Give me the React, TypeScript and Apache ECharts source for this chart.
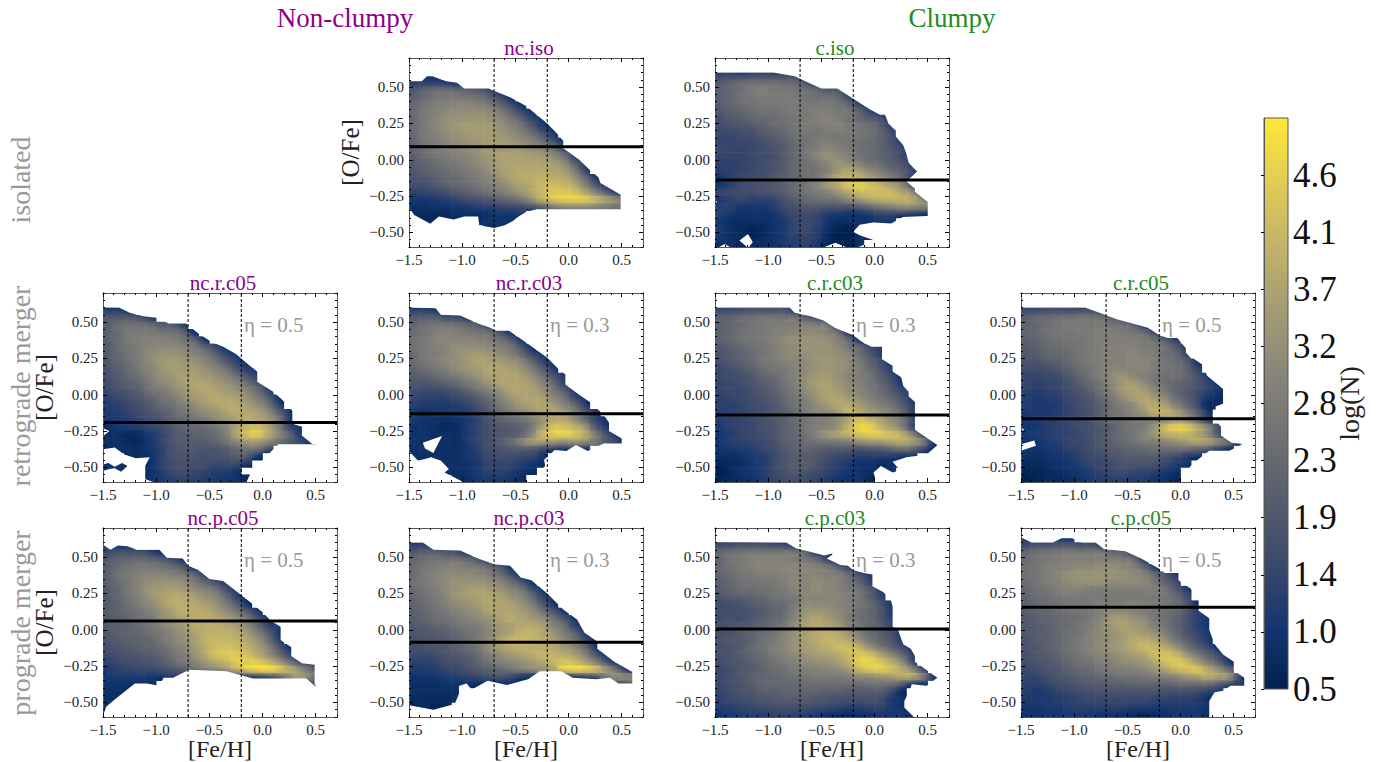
import React, { useEffect, useRef } from "react";
import * as echarts from "echarts";

// log(N) x 10 per cell. Rows run from [O/Fe]=0.675 down to -0.575, columns from [Fe/H]=-1.45 to 0.65. 0 = empty.
const xBins = [-1.45,-1.35,-1.25,-1.15,-1.05,-0.95,-0.85,-0.75,-0.65,-0.55,-0.45,-0.35,-0.25,-0.15,-0.05,0.05,0.15,0.25,0.35,0.45,0.55,0.65];
const yBins = [0.675,0.625,0.575,0.525,0.475,0.425,0.375,0.325,0.275,0.225,0.175,0.125,0.075,0.025,-0.025,-0.075,-0.125,-0.175,-0.225,-0.275,-0.325,-0.375,-0.425,-0.475,-0.525,-0.575];

const ncIso = [[],[],
[0,9,9],
[13,14,14,13,10],
[19,22,24,24,23,22,20,16,10],
[21,24,26,27,27,26,25,22,17,10],
[23,26,28,29,30,30,29,27,23,17,10],
[24,27,29,31,32,32,32,31,28,23,16,10],
[24,27,30,32,33,34,34,33,31,27,22,15,10],
[24,27,30,32,34,35,35,35,33,30,26,20,13,10],
[24,27,29,31,33,34,35,35,34,32,29,25,19,12],
[23,26,28,30,32,33,34,35,35,34,32,29,25,18,10],
[22,25,27,29,30,32,33,35,35,35,34,32,30,25,17,10],
[21,24,26,27,29,30,32,34,36,36,36,35,34,31,25,14],
[20,22,24,26,27,29,31,33,36,37,37,37,37,35,31,22,12],
[19,21,23,24,26,27,29,32,35,37,38,38,38,37,35,28,16],
[18,19,21,23,24,26,28,30,33,36,38,39,40,39,38,33,24,12],
[16,17,19,21,23,24,26,28,30,33,36,38,41,42,41,38,30,20,11],
[13,14,15,17,19,21,23,25,27,30,33,37,41,44,44,43,38,30,22,13],
[10,10,11,12,14,16,17,19,21,23,26,31,38,42,44,45,44,40,35,30],
[8,8,9,9,10,11,12,13,14,15,16,18,22,27,30,31,31,30,28,26],
[7,7,7,7,8,8,8,9,10,10,11],
[0,7,7,7,7,7,8,9,9,8],
[0,0,0,0,0,0,0,8,8],
[],[]];

const cIso = [[],[],
[15,16,16,17,17,17,17,16,11],
[20,22,24,25,25,25,24,23,19,12],
[21,23,25,27,28,27,27,26,25,23,20,19,11],
[21,23,25,26,27,27,27,27,26,25,25,23,17,10],
[20,22,24,25,26,26,27,27,27,27,27,26,23,16,10],
[19,21,22,24,25,25,26,27,27,28,28,27,26,22,16,11],
[17,19,20,22,23,24,25,26,27,28,29,28,26,24,21,18,11],
[16,17,18,19,21,23,24,26,27,27,28,29,27,26,24,21,14],
[15,15,16,17,19,21,23,25,26,26,27,27,27,26,25,22,17,11],
[14,14,15,15,17,19,21,24,25,27,28,27,26,25,24,22,18,12],
[15,14,14,15,16,18,20,23,26,28,30,29,27,25,24,22,19,15,10],
[14,14,14,15,16,17,20,23,26,29,32,31,29,26,24,22,20,16,10],
[13,13,14,15,16,18,20,23,25,27,30,33,32,29,26,24,21,18,12],
[12,13,14,15,16,18,20,23,25,26,29,34,37,35,31,28,24,21,15,9],
[10,13,15,16,17,19,21,23,25,27,32,38,40,40,37,33,29,24,15],
[10,13,16,17,18,19,21,24,26,29,34,38,43,45,43,40,36,31,20],
[14,15,16,16,17,18,20,23,25,27,29,33,37,41,42,42,41,37,31,15],
[11,13,14,13,13,14,17,20,23,24,25,26,30,33,36,38,39,39,37,30],
[12,12,10,10,10,12,15,17,19,19,18,18,18,20,23,26,28,30,30,28],
[12,10,9,9,9,10,13,15,16,15,12,11,10,10,12,14,15,14,12,10],
[10,8,8,8,8,9,11,14,15,14,10,8,8,9,9,10,10],
[11,8,7,6,7,9,11,14,15,13,9,6,5,9,9],
[10,8,7,6,7,9,11,13,14,12,8,5,5,8,8],
[8,8,7,7,8,9,11,12,13,11,7,5,5,8]];

const ncRc05 = [[],[],
[13,13,10],
[19,20,20,18,13],
[21,24,25,25,24,21,20,14],
[21,24,27,27,27,26,25,22,11],
[21,24,27,28,29,29,28,26,22,12],
[20,24,26,28,30,31,31,30,27,22,16,10],
[20,23,26,28,31,33,33,32,30,27,22,15,10],
[19,22,25,28,31,34,35,34,33,30,26,20,14,9],
[18,21,24,27,30,33,35,35,35,33,30,26,19,13,9],
[17,20,23,25,29,32,34,36,36,35,33,30,25,19,13],
[16,19,21,23,27,30,32,35,37,37,35,33,30,25,19,11],
[15,17,19,21,25,27,30,33,36,37,37,35,33,30,24,15],
[13,15,17,19,22,25,27,31,34,36,38,37,36,33,28,21,10],
[12,13,15,17,20,23,25,28,31,34,36,38,38,36,32,26,15],
[11,12,14,16,18,20,23,26,28,31,33,36,38,38,36,31,22,11],
[10,11,12,14,16,18,21,23,25,27,30,33,36,39,38,34,27,13],
[8,10,11,12,14,16,19,22,23,24,26,30,36,41,42,37,28,16,9],
[8,8,7,8,11,14,18,20,21,22,24,28,36,42,44,38,30,22,12,9],
[8,8,7,7,10,14,18,20,20,20,22,25,30,34,34,30,25,20,15,10],
[7,8,8,8,10,13,17,19,19,18,18,20,23,25,24,17],
[0,0,8,8,9,13,17,18,18,17,17,18,20,19,10],
[8,8,8,0,9,13,16,17,17,16,15,15,15,11],
[9,9,8,0,9,12,15,16,15,14,12,12,10],
[0,0,0,0,9,11,13,14,13,12,11,10,9,7]];

const ncRc03 = [[],[],
[14,14,12],
[20,21,21,18,17,13],
[23,25,26,26,25,23,21,14],
[24,26,28,29,28,27,26,24,19,11],
[25,27,29,30,30,30,29,28,25,20,11],
[25,27,29,30,32,32,32,31,29,26,19,10],
[24,27,28,30,32,34,35,34,32,29,24,16,10],
[24,26,28,30,32,34,36,36,35,33,30,23,15,9],
[22,24,26,28,31,33,35,37,37,36,33,28,21,13],
[20,21,23,25,27,30,33,36,37,37,36,32,26,19,12],
[18,18,19,21,23,26,29,33,36,37,37,35,30,24,15],
[16,15,15,16,18,21,25,28,32,36,37,36,33,27,21,12],
[14,13,13,13,15,17,20,24,29,33,36,37,36,31,26,17,10],
[12,11,11,11,12,14,17,21,26,30,34,36,37,35,30,24,14],
[10,9,10,10,11,12,15,19,23,27,30,33,36,37,35,29,21,12],
[10,9,9,8,9,11,14,18,21,23,25,28,33,38,38,33,25,15,9],
[9,9,8,7,8,11,14,17,19,20,22,27,36,43,43,40,34,21,12],
[9,9,8,8,8,11,14,17,19,20,23,30,40,44,45,43,38,28,18,10],
[9,8,8,8,8,11,14,17,20,23,28,33,34,33,31,32,30,26,20,14],
[8,9,8,8,8,10,13,16,18,19,20,20,17,13,11,12,10],
[8,8,8,8,8,10,12,15,16,16,15,14,10],
[0,0,0,8,8,9,11,14,14,14,12,10,8],
[0,0,0,8,8,9,11,13,13,12,10,8],
[0,0,0,0,8,8,10,11,11,10,8]];

const cRc03 = [[],[],
[16,17,18,19,19,19,19,13],
[21,22,24,25,26,26,26,26,22,18,12],
[21,23,24,26,27,28,28,28,29,28,26,12],
[21,23,25,26,27,28,29,30,31,31,29,25,12],
[21,23,25,26,27,29,31,32,33,33,32,29,23,12],
[19,21,23,25,26,28,30,31,33,33,33,31,27,23,16,12],
[18,20,22,24,26,28,30,31,32,33,33,32,30,25,19,13],
[17,19,21,23,26,27,29,30,31,33,34,33,31,27,22,17,10],
[15,17,19,21,24,26,27,29,31,33,34,33,31,28,24,19,13],
[15,16,17,19,22,24,26,29,32,34,35,33,30,28,26,21,16,9],
[14,15,16,18,20,22,25,28,32,35,36,34,31,29,26,23,18,11],
[14,15,15,17,19,21,24,27,31,34,36,35,32,30,27,24,20,15,10],
[13,14,15,16,18,20,23,26,29,33,36,37,35,32,29,26,23,18,11],
[13,13,14,16,17,19,22,25,28,31,34,37,38,35,32,29,26,21,14],
[12,13,14,15,17,19,21,24,27,30,31,34,40,39,36,33,29,24,15],
[12,13,14,15,17,19,21,24,26,28,29,32,37,43,41,37,32,27,17],
[11,13,14,15,17,18,21,23,26,28,30,33,40,46,46,41,36,30,18],
[10,12,14,15,16,18,21,23,25,29,33,36,39,42,44,44,42,39,30,18],
[10,12,13,14,15,17,20,22,24,25,26,27,28,31,33,34,36,37,34,27,11],
[9,10,11,12,14,16,19,21,22,21,20,20,19,18,19,20,22,24,22,16,8],
[8,8,9,11,12,15,18,20,20,19,17,15,14,12,12,12,12,11,9],
[6,7,8,10,12,15,18,20,20,18,15,13,11,9,9,8,8,8],
[5,7,9,10,12,15,17,19,18,16,14,12,10,9,8,8,9],
[6,7,8,9,11,14,16,17,16,14,12,10,9,9,7]];

const cRc05 = [[],[],
[16,17,18,18,18,18,18,14],
[21,23,24,25,25,26,26,25,22,17,11],
[22,23,25,26,27,27,27,27,26,25,22,13],
[22,23,25,26,26,27,27,28,28,27,26,24,17,10],
[21,22,24,25,26,26,27,28,28,28,28,27,25,20,14],
[20,21,23,24,25,26,27,28,29,29,29,28,27,25,20,12],
[19,20,22,23,24,26,27,28,29,29,30,29,28,25,23,15],
[18,18,20,21,23,25,27,28,29,29,30,30,28,26,24,20,11],
[16,16,17,19,21,24,26,28,30,30,30,30,28,26,25,22,15],
[14,14,15,16,19,22,25,28,31,33,31,29,27,25,25,22,18,11],
[14,13,14,15,17,20,23,26,30,34,35,32,28,25,23,21,18,14,9],
[13,12,13,14,16,18,21,25,29,34,36,35,31,27,23,20,17,13,10],
[12,11,12,13,15,17,19,23,27,31,35,37,35,31,25,21,16,10,8],
[12,11,11,12,14,16,18,21,25,28,31,36,38,36,30,24,17,8,7],
[10,11,11,12,14,16,18,21,25,27,30,33,38,39,36,30,22,12],
[10,11,12,13,15,16,18,21,24,25,27,28,30,33,35,33,25,15],
[10,10,12,13,14,16,17,19,21,24,26,28,33,41,45,44,38,30,18,10],
[10,11,12,13,14,15,17,19,22,24,26,29,33,38,40,40,37,31,20,11],
[9,9,11,12,14,15,16,19,21,23,25,27,28,30,32,34,36,34,29,22,10],
[9,9,10,11,13,14,16,18,20,21,22,23,24,24,24,24,22,20,14,10],
[8,8,9,10,11,13,15,16,18,19,20,20,20,18,16,13,10],
[7,7,8,9,10,12,14,15,16,18,18,18,17,15,12,10],
[6,6,7,8,9,10,12,14,15,16,15,14,13,11,9],
[5,6,7,7,8,9,11,12,13,13,12,12,10,9,7]];

const ncPc05 = [[],[],
[11,10,11],
[16,18,18,18,15,11],
[20,22,23,24,23,21,17,12],
[21,24,26,27,27,26,24,20,11],
[21,25,27,29,30,30,29,27,23,15],
[21,24,27,30,32,33,33,32,28,23,18,12],
[20,23,27,30,34,35,36,35,32,29,26,18,10],
[20,23,26,29,33,36,38,38,36,33,30,24,15,8],
[20,22,25,28,31,35,38,39,38,36,33,28,21,11],
[20,22,24,26,29,33,36,39,39,38,36,32,27,20,12],
[20,21,23,25,27,31,34,37,39,39,38,36,32,27,18,10],
[20,21,22,24,26,29,32,35,38,39,39,38,36,31,24,15,11],
[19,21,22,23,25,27,30,33,36,39,40,40,38,35,29,21,11],
[18,20,21,22,23,26,29,32,35,39,41,41,40,38,33,25,14],
[17,18,20,21,22,24,27,30,34,38,42,43,42,40,36,30,20,10],
[15,17,18,19,20,22,25,28,32,37,42,44,45,43,39,33,25,16],
[13,15,16,17,18,20,23,26,29,33,37,40,44,45,45,41,35,27,18,13],
[11,13,14,15,15,16,18,20,23,26,29,32,37,42,45,46,43,38,32,24],
[10,11,11,11,10,10,11,10,10,11,11,12,12,13,14,16,22,30,35,28],
[9,9,9,8,8,0,0,0,0,0,0,0,0,0,0,0,0,0,0,16],
[8,8,8],
[8,8],
[8],
[8]];

const ncPc03 = [[],[],
[14,14,10],
[20,22,22,20,18,13],
[23,25,26,26,26,24,20,13],
[24,26,28,29,29,28,27,24,20,11],
[24,27,29,31,31,31,30,28,25,18,10],
[25,27,29,31,33,33,33,32,30,25,19,10],
[24,26,28,31,33,35,36,35,33,30,26,18,10],
[23,25,27,30,33,35,36,37,36,33,30,24,15,9],
[22,24,26,29,31,33,35,37,37,36,33,28,20,12],
[21,23,25,27,29,31,33,36,37,37,35,32,26,19,11],
[20,22,24,25,27,29,31,33,36,38,37,35,32,26,19,10],
[19,20,22,23,25,27,28,31,34,36,38,38,36,30,25,15,9],
[18,19,20,21,23,25,27,30,34,37,40,40,38,34,28,22,12],
[17,18,19,20,22,24,27,31,36,40,41,40,39,36,31,26,18,9],
[16,17,18,19,21,23,26,31,35,38,39,39,39,38,35,31,24,12],
[15,15,16,18,19,21,24,28,31,34,36,38,40,40,39,36,30,20,10],
[13,13,14,16,17,19,22,25,28,30,32,34,37,40,43,42,37,30,20,11],
[11,11,12,14,15,17,19,21,23,25,27,29,32,36,42,45,44,40,33,24,12],
[9,9,10,11,12,13,14,16,17,15,12,10,0,0,9,11,14,18,26,30,29],
[8,8,8,9,9,9,8,8,8,8,8,8,0,0,0,0,0,0,0,14,18],
[8,8,8,8,8],
[7,7,7,7,8],
[7,7,6,7],
[]];

const cPc03 = [[],[],
[17,18,19,19,19,18,17,13],
[23,25,26,27,27,27,27,26,23,15,10],
[23,26,27,29,29,29,29,28,27,24,17,10],
[23,25,27,28,29,29,30,30,30,29,27,22,15,9],
[22,24,26,27,28,28,29,30,30,30,29,28,24,18,12],
[21,23,25,26,26,27,28,30,30,31,30,29,26,22,15],
[20,22,24,24,25,26,27,29,30,31,30,29,27,25,20,12],
[18,20,21,22,23,25,26,27,30,30,30,30,28,26,21,15],
[16,17,18,20,21,23,24,27,31,31,31,30,28,26,23,18,11],
[16,16,17,18,20,22,24,29,33,34,33,31,28,25,23,19,12],
[16,17,17,19,21,23,25,30,35,37,35,32,28,25,23,19,13],
[17,18,19,20,22,24,27,32,36,38,37,35,30,26,23,20,15,10],
[17,18,20,22,24,26,29,33,36,38,39,38,34,29,24,21,17,11],
[18,19,20,22,25,27,30,33,36,38,40,40,38,33,27,23,19,13],
[17,18,20,23,25,28,30,33,35,37,39,41,42,40,34,28,23,17,9],
[17,18,20,22,24,27,29,31,33,35,36,38,41,44,43,37,31,24,14],
[16,18,19,21,23,25,27,29,31,32,33,35,39,45,46,44,39,32,19],
[15,17,19,20,22,24,25,27,28,29,30,31,34,40,43,44,42,38,31,18],
[15,17,19,21,22,23,24,25,26,27,27,27,28,31,31,33,34,36,35,27,12],
[15,17,18,20,22,23,23,23,24,24,24,24,24,24,25,25,24,20,12,10],
[14,16,18,19,21,21,22,22,22,22,21,21,20,20,20,20,16,9],
[13,15,16,17,18,19,20,20,20,19,18,17,17,17,17,16,12,9],
[12,13,14,15,16,17,17,17,17,16,15,14,13,13,14,14,11,9],
[10,11,12,13,13,14,14,14,13,12,10,9,8,9,10,11,10,10,8]];

const cPc05 = [[],
[10,9,9,11,10],
[17,19,19,20,20,19,19,15],
[23,25,26,27,27,27,27,27,24,22,16],
[24,26,27,28,29,29,29,29,29,28,25,15],
[25,26,28,29,30,31,31,32,32,31,29,24,14],
[25,26,28,30,32,33,33,33,33,32,31,29,24,19,12],
[24,26,28,29,31,32,32,32,31,31,31,30,27,22,17],
[23,25,26,28,29,29,28,28,28,28,28,28,28,26,20,13],
[22,24,25,26,27,27,27,27,27,27,27,27,27,26,23,17],
[21,23,24,25,26,26,27,28,28,28,29,28,27,26,24,19,10],
[20,22,23,24,25,26,27,29,31,31,30,28,26,25,23,19,13,9],
[19,21,22,23,24,25,27,30,34,35,33,31,27,25,22,18,13,10],
[19,20,21,23,24,26,28,31,34,36,35,33,29,26,22,18,13,10],
[19,20,21,23,25,26,29,31,33,35,36,35,33,29,24,19,15,11],
[18,20,21,23,25,27,29,31,33,35,38,39,37,33,27,22,17,12],
[18,19,21,23,25,27,29,31,33,35,38,41,41,39,34,27,21,16,9],
[17,19,20,22,24,26,28,30,31,33,35,37,41,43,41,35,28,22,16,9],
[16,18,19,21,23,25,26,28,29,31,32,34,37,42,44,42,36,29,22,12],
[15,16,18,19,21,23,24,26,27,28,29,30,33,36,40,42,43,38,32,24],
[14,14,16,18,19,21,22,23,24,25,25,26,27,28,30,33,35,37,35,31,16],
[13,13,14,16,17,19,20,20,21,21,22,22,22,22,23,24,24,24,21,16,12],
[12,11,12,14,15,16,17,18,18,18,18,18,18,17,17,17,16,14,10],
[11,11,11,12,13,14,15,15,15,15,15,15,14,14,13,13,12,9],
[10,10,11,11,12,13,13,13,13,13,12,12,11,11,11,11,11,9],
[9,9,10,10,11,11,11,10,10,9,8,7,8,9,10,10,10,8]];

// Where the populated region ends: [Fe/H], [O/Fe] pairs.
const ncIsoTop = [[-1.5,.54],[-1.38,.54],[-1.33,.575],[-1.28,.575],[-1.15,.54],[-1.05,.53],[-.98,.49],[-.75,.49],[-.72,.48],[-.55,.43],[-.4,.37],[-.3,.31],[-.2,.25],[-.12,.19],[-.05,.13],[-.05,.08],[.1,0],[.2,-.07],[.28,-.12],[.3,-.16],[.49,-.24],[.49,-.34]];
const ncIsoLow = [[-1.5,-.33],[-1.45,-.38],[-1.3,-.44],[-1.22,-.39],[-1.08,-.41],[-.98,-.39],[-.85,-.39],[-.84,-.45],[-.7,-.47],[-.6,-.45],[-.52,-.42],[-.47,-.39],[-.4,-.36],[-.3,-.34],[.49,-.34]];
const cIsoTop = [[-1.5,.6],[-.95,.6],[-.75,.575],[-.62,.53],[-.5,.49],[-.35,.49],[-.2,.42],[-.05,.35],[.05,.31],[.1,.31],[.13,.25],[.2,.2],[.2,.16],[.27,.1],[.3,.04],[.32,-.02],[.4,-.08],[.3,-.15],[.35,-.18],[.38,-.2],[.38,-.22],[.5,-.29],[.5,-.39]];
const cIsoLow = [[-.15,-.6],[0,-.555],[-.14,-.52],[-.2,-.495],[-.14,-.447],[-.015,-.431],[.157,-.438],[.267,-.393],[.487,-.386]];
const ncRc05Top = [[-1.5,.6],[-1.35,.6],[-1.25,.565],[-1.12,.54],[-1,.53],[-.88,.49],[-.72,.49],[-.6,.42],[-.47,.36],[-.37,.33],[-.25,.28],[-.12,.2],[-.05,.16],[-.05,.09],[.1,.02],[.18,-.03],[.28,-.11],[.28,-.2],[.37,-.22],[.37,-.28],[.47,-.34]];
const ncRc05Low = [[-.15,-.6],[-.12,-.55],[-.05,-.5],[0,-.45],[.08,-.39],[.15,-.34],[.47,-.34]];
const ncRc03Top = [[-1.5,.6],[-1.25,.595],[-1.2,.55],[-1.02,.545],[-.85,.49],[-.73,.46],[-.68,.44],[-.56,.44],[-.4,.36],[-.2,.255],[-.1,.18],[-.03,.14],[-.03,.07],[.1,0],[.2,-.05],[.33,-.14],[.38,-.19],[.38,-.25],[.5,-.3],[.5,-.34]];
const ncRc03Low = [[-.36,-.6],[-.22,-.49],[-.23,-.447],[-.13,-.38],[-.02,-.386],[.07,-.345],[.18,-.386],[.33,-.336],[.5,-.336]];
const cRc03Top = [[-1.5,.6],[-.8,.6],[-.75,.565],[-.6,.54],[-.48,.51],[-.37,.46],[-.2,.41],[-.12,.365],[-.03,.33],[.07,.33],[.07,.245],[.17,.2],[.17,.16],[.25,.12],[.27,.06],[.32,.02],[.32,-.01],[.38,-.05],[.38,-.24],[.6,-.35]];
const cRc03Low = [[.02,-.6],[-.01,-.535],[.06,-.49],[.17,-.535],[.24,-.52],[.17,-.46],[.3,-.43],[.49,-.41],[.6,-.34]];
const cRc05Top = [[-1.5,.6],[-.9,.6],[-.75,.56],[-.6,.52],[-.45,.49],[-.3,.46],[-.2,.41],[-.12,.39],[-.03,.39],[.05,.32],[.05,.29],[.1,.25],[.12,.25],[.2,.21],[.22,.18],[.25,.13],[.4,.04],[.4,-.06],[.33,-.08],[.33,-.11],[.3,-.14],[.32,-.17],[.38,-.22],[.38,-.28],[.48,-.33],[.6,-.34]];
const cRc05Low = [[.04,-.6],[.04,-.535],[.13,-.465],[.27,-.385],[.46,-.385],[.59,-.335]];
const ncPc05Top = [[-1.5,.585],[-1.43,.55],[-1.36,.58],[-1.27,.575],[-1.18,.55],[-.97,.55],[-.9,.495],[-.75,.49],[-.7,.44],[-.6,.41],[-.5,.35],[-.37,.335],[-.22,.25],[-.1,.18],[0,.12],[.08,.06],[.17,.02],[.17,-.07],[.27,-.12],[.27,-.18],[.37,-.23],[.49,-.24],[.49,-.38]];
const ncPc05Low = [[-1.5,-.59],[-1.47,-.53],[-1.39,-.48],[-1.2,-.37],[-1.09,-.37],[-.97,-.385],[-.93,-.33],[-.84,-.33],[-.69,-.275],[-.34,-.285],[-.09,-.335],[.41,-.335],[.49,-.385]];
const ncPc03Top = [[-1.5,.6],[-1.37,.6],[-1.27,.55],[-1.02,.545],[-.85,.49],[-.7,.45],[-.55,.44],[-.45,.36],[-.35,.34],[-.2,.25],[-.05,.14],[.08,.07],[.15,-.02],[.27,-.08],[.27,-.13],[.43,-.22],[.6,-.29],[.6,-.37]];
const ncPc03Low = [[-1.5,-.52],[-1.27,-.55],[-1.07,-.51],[-1.03,-.44],[-1.03,-.386],[-.96,-.37],[-.91,-.41],[-.76,-.35],[-.58,-.38],[-.38,-.34],[-.27,-.285],[-.07,-.285],[.04,-.33],[.26,-.34],[.39,-.33],[.47,-.37],[.6,-.37]];
const cPc03Top = [[-1.5,.605],[-.83,.6],[-.74,.56],[-.57,.53],[-.47,.51],[-.37,.53],[-.45,.49],[-.32,.445],[-.25,.44],[-.2,.41],[-.1,.39],[-.02,.38],[-.02,.3],[.08,.26],[.15,.21],[.17,.16],[.17,.02],[.22,0],[.27,-.1],[.34,-.13],[.38,-.18],[.38,-.22],[.6,-.335]];
const cPc03Low = [[.37,-.6],[.28,-.535],[.28,-.49],[.33,-.42],[.35,-.375],[.49,-.385],[.59,-.33]];
const cPc05Top = [[-1.5,.635],[-1.4,.6],[-1.2,.6],[-1.12,.63],[-1.02,.63],[-.93,.6],[-.8,.6],[-.72,.555],[-.52,.54],[-.37,.49],[-.2,.42],[-.15,.39],[-.02,.39],[-.02,.34],[.1,.28],[.17,.2],[.17,.13],[.27,.08],[.27,0],[.32,-.1],[.4,-.17],[.5,-.22],[.5,-.28],[.6,-.33],[.6,-.39]];
const cPc05Low = [[.27,-.6],[.27,-.49],[.32,-.43],[.4,-.42],[.47,-.385],[.6,-.385]];

const cIsoHoles = [[[-1.27,-.555],[-1.19,-.51],[-1.145,-.565],[-1.18,-.6],[-1.2,-.6]],[[-1.46,-.6],[-1.41,-.58],[-1.36,-.6]],[[-.47,-.6],[-.37,-.57],[-.27,-.6]],[[-1.5,-.28],[-1.48,-.29],[-1.5,-.31]]];
const ncRc05Holes = [[[-1.5,-.374],[-1.39,-.363],[-1.3,-.41],[-1.19,-.436],[-1.06,-.43],[-1.12,-.51],[-1.14,-.57],[-1.03,-.6],[-1.5,-.6],[-1.5,-.525],[-1.44,-.51],[-1.39,-.505],[-1.33,-.53],[-1.27,-.49],[-1.32,-.47],[-1.39,-.495],[-1.45,-.47],[-1.5,-.48]],[[-1.5,-.23],[-1.44,-.25],[-1.5,-.285]]];
const ncRc03Holes = [[[-1.37,-.33],[-1.19,-.283],[-1.27,-.4],[-1.35,-.37]],[[-1.5,-.386],[-1.415,-.454],[-1.29,-.43],[-1.2,-.454],[-1.125,-.51],[-1.165,-.534],[-.99,-.6],[-1.5,-.6]]];
const cRc05Holes = [[[-1.5,-.34],[-1.375,-.315],[-1.36,-.35],[-1.5,-.385]],[[-1.5,-.225],[-1.47,-.24],[-1.5,-.25]]];

const panelNames = ["nc.iso","c.iso","nc.r.c05","nc.r.c03","c.r.c03","c.r.c05","nc.p.c05","nc.p.c03","c.p.c03","c.p.c05"];
const panelCells = [ncIso,cIso,ncRc05,ncRc03,cRc03,cRc05,ncPc05,ncPc03,cPc03,cPc05];
const panelTops = [ncIsoTop,cIsoTop,ncRc05Top,ncRc03Top,cRc03Top,cRc05Top,ncPc05Top,ncPc03Top,cPc03Top,cPc05Top];
const panelLows = [ncIsoLow,cIsoLow,ncRc05Low,ncRc03Low,cRc03Low,cRc05Low,ncPc05Low,ncPc03Low,cPc03Low,cPc05Low];
const panelHoles = [[],cIsoHoles,ncRc05Holes,ncRc03Holes,[],cRc05Holes,[],[],[],[]];
const gasLines = [0.09,-0.14,-0.19,-0.13,-0.14,-0.165,0.06,-0.085,0.005,0.155];
const feLines = [-0.7,-0.2];
const etaLabels = ["","","η = 0.5","η = 0.3","η = 0.3","η = 0.5","η = 0.5","η = 0.3","η = 0.3","η = 0.5"];

const xMajor = [-1.5,-1,-0.5,0,0.5];
const xMinor = [-1.4,-1.3,-1.2,-1.1,-0.9,-0.8,-0.7,-0.6,-0.4,-0.3,-0.2,-0.1,0.1,0.2,0.3,0.4,0.6,0.7];
const yMajor = [-0.5,-0.25,0,0.25,0.5];
const yMinor = [-0.6,-0.55,-0.45,-0.4,-0.35,-0.3,-0.2,-0.15,-0.1,-0.05,0.05,0.1,0.15,0.2,0.3,0.35,0.4,0.45,0.55,0.6,0.65,0.7];
const cbarTicks = [0.5,0.955,1.41,1.865,2.32,2.775,3.23,3.685,4.14,4.595];
const cbarLabels = ["0.5","1.0","1.4","1.9","2.3","2.8","3.2","3.7","4.1","4.6"];
const cbarRange = [0.5,5.05];
const cividis = ["#00224e","#123570","#35456c","#4f576c","#666970","#7d7c78","#948f78","#aea371","#c8b866","#e5cf52","#fee838"];

const PURPLE = "#8b008b";
const GREEN = "#228b22";
const GREY = "#999999";
const FONT = "'Liberation Serif', serif";
const colX = [103,409,715,1021];
const rowY = [58,293,528];
const PW = 234, PH = 189;
const layout = [[1,0],[2,0],[0,1],[1,1],[2,1],[3,1],[0,2],[1,2],[2,2],[3,2]];

function fmtNum(v: number, d: number) {
  return v.toFixed(d).replace("-", "\u2212");
}
function shade(v: number) {
  const t = (v - cbarRange[0]) / (cbarRange[1] - cbarRange[0]);
  return echarts.color.lerp(Math.max(0, Math.min(1, t)), cividis) as string;
}

function App() {
  const ref = useRef<HTMLDivElement>(null);
  useEffect(() => {
    const chart = echarts.init(ref.current!, undefined, { renderer: "svg" });
    const grids: any[] = [], xAxes: any[] = [], yAxes: any[] = [], series: any[] = [];
    const graphics: any[] = [];
    const spine = { show: true, onZero: false, lineStyle: { color: "#555", width: 1 } };
    panelNames.forEach((name, i) => {
      const [c, r] = layout[i];
      const left = colX[c], top = rowY[r];
      grids.push({ left, top, width: PW, height: PH, outerBoundsMode: "none" });
      const xBase = { type: "value", gridIndex: i, min: -1.5, max: 0.7, z: 6, splitLine: { show: false }, axisLine: spine };
      const yBase = { type: "value", gridIndex: i, min: -0.6, max: 0.7, z: 6, splitLine: { show: false }, axisLine: spine };
      const xi = xAxes.length, yi = yAxes.length;
      xAxes.push({
        ...xBase, position: "bottom",
        axisTick: { show: true, inside: true, length: 4, customValues: xMajor, lineStyle: { color: "#000" } },
        axisLabel: { show: true, customValues: xMajor, margin: 5, fontFamily: FONT, fontSize: 15, color: "#222", hideOverlap: false, formatter: (v: number) => fmtNum(v, 1) },
        ...(r === 2 ? { name: "[Fe/H]", nameLocation: "middle", nameGap: 20, nameMoveOverlap: false, nameTextStyle: { fontFamily: FONT, fontSize: 24, color: "#222" } } : {}),
      });
      xAxes.push({ ...xBase, position: "bottom", axisLabel: { show: false }, axisTick: { show: true, inside: true, length: 2, customValues: xMinor, lineStyle: { color: "#000" } } });
      xAxes.push({ ...xBase, position: "top", axisLabel: { show: false }, axisTick: { show: true, inside: true, length: 4, customValues: xMajor, lineStyle: { color: "#000" } } });
      xAxes.push({ ...xBase, position: "top", axisLabel: { show: false }, axisTick: { show: true, inside: true, length: 2, customValues: xMinor, lineStyle: { color: "#000" } } });
      yAxes.push({
        ...yBase, position: "left",
        axisTick: { show: true, inside: true, length: 4, customValues: yMajor, lineStyle: { color: "#000" } },
        axisLabel: { show: true, customValues: yMajor, margin: 5, fontFamily: FONT, fontSize: 15, color: "#222", hideOverlap: false, formatter: (v: number) => fmtNum(v, 2) },
        ...(i === 0 || c === 0 ? { name: "[O/Fe]", nameLocation: "middle", nameGap: 46, nameTextStyle: { fontFamily: FONT, fontSize: 25, color: "#222" } } : {}),
      });
      yAxes.push({ ...yBase, position: "left", axisLabel: { show: false }, axisTick: { show: true, inside: true, length: 2, customValues: yMinor, lineStyle: { color: "#000" } } });
      yAxes.push({ ...yBase, position: "right", axisLabel: { show: false }, axisTick: { show: true, inside: true, length: 4, customValues: yMajor, lineStyle: { color: "#000" } } });
      yAxes.push({ ...yBase, position: "right", axisLabel: { show: false }, axisTick: { show: true, inside: true, length: 2, customValues: yMinor, lineStyle: { color: "#000" } } });

      const table = panelCells[i];
      const at = (ry: number, cx: number) => { const row = table[ry]; const v = row ? row[cx] : 0; return v ? v / 10 : 0; };
      const cells: number[][] = [];
      table.forEach((row, ry) => row.forEach((v, cx) => { if (v > 0) cells.push([xBins[cx], yBins[ry], v / 10, cx, ry]); }));
      series.push({
        type: "custom", xAxisIndex: xi, yAxisIndex: yi, data: cells, clip: true, silent: true, z: 1,
        encode: { x: 0, y: 1 },
        renderItem: (_p: any, api: any) => {
          const x = api.value(0), y = api.value(1), v = api.value(2), cx = api.value(3), ry = api.value(4);
          const a = api.coord([x - 0.05, y + 0.025]), b = api.coord([x + 0.05, y - 0.025]);
          const dx = b[0] - a[0], dy = b[1] - a[1];
          // the cell's fill leans towards its neighbours so that the map reads as continuous shading
          const l = at(ry, cx - 1), rt = at(ry, cx + 1), u = at(ry - 1, cx), d = at(ry + 1, cx);
          const gx = l && rt ? (rt - l) / (2 * dx) : l ? (v - l) / dx : rt ? (rt - v) / dx : 0;
          const gy = u && d ? (d - u) / (2 * dy) : u ? (v - u) / dy : d ? (d - v) / dy : 0;
          const g = Math.hypot(gx, gy);
          const mx = (a[0] + b[0]) / 2, my = (a[1] + b[1]) / 2;
          let fill: any = shade(v);
          if (g > 1e-4) {
            const h = Math.abs(gx / g) * dx / 2 + Math.abs(gy / g) * dy / 2;
            const ux = (gx / g) * h, uy = (gy / g) * h;
            fill = new echarts.graphic.LinearGradient(mx - ux, my - uy, mx + ux, my + uy, [
              { offset: 0, color: shade(v - g * h) },
              { offset: 0.5, color: shade(v) },
              { offset: 1, color: shade(v + g * h) },
            ], true);
          }
          return { type: "rect", shape: { x: a[0] - 0.3, y: a[1] - 0.3, width: dx + 0.6, height: dy + 0.6 }, style: { fill } };
        },
      });
      // white where the populated region ends
      const polys: number[][][] = [
        [[panelTops[i][0][0], 0.7], ...panelTops[i], [0.7, panelTops[i][panelTops[i].length - 1][1]], [0.7, 0.7]],
        [[panelLows[i][0][0], -0.6], ...panelLows[i], [0.7, panelLows[i][panelLows[i].length - 1][1]], [0.7, -0.6]],
        ...panelHoles[i],
      ];
      series.push({
        type: "custom", xAxisIndex: xi, yAxisIndex: yi, data: polys.map(() => [0, 0]), clip: true, silent: true, z: 2,
        encode: { x: 0, y: 1 },
        renderItem: (p: any, api: any) => ({
          type: "polygon",
          shape: { points: polys[p.dataIndex].map((q) => api.coord(q)) },
          style: { fill: "#fff" },
        }),
      });
      feLines.forEach((fe) => series.push({
        type: "line", xAxisIndex: xi, yAxisIndex: yi, data: [[fe, -0.6], [fe, 0.7]], symbol: "none", silent: true, z: 3,
        lineStyle: { color: "#000", width: 1, type: [3, 2] },
      }));
      series.push({
        type: "line", xAxisIndex: xi, yAxisIndex: yi, data: [[-1.5, gasLines[i]], [0.7, gasLines[i]]], symbol: "none", silent: true, z: 4,
        lineStyle: { color: "#000", width: 3 },
      });
      graphics.push({ type: "text", x: left + PW / 2 + 3, y: top - 10, style: { text: name, fontFamily: FONT, fontSize: 21, fill: name.startsWith("nc") ? PURPLE : GREEN, textAlign: "center", textVerticalAlign: "middle" } });
      if (etaLabels[i]) {
        graphics.push({ type: "text", x: left + 141, y: top + 32, z: 10, style: { text: etaLabels[i], fontFamily: FONT, fontSize: 21, fill: GREY, textAlign: "left", textVerticalAlign: "middle" } });
      }
    });

    // colour bar
    const gi = panelNames.length;
    grids.push({ left: 1264, top: 118, width: 24, height: 571, outerBoundsMode: "none" });
    xAxes.push({ type: "value", gridIndex: gi, min: 0, max: 1, show: false });
    yAxes.push({
      type: "value", gridIndex: gi, min: cbarRange[0], max: cbarRange[1], position: "right", z: 6, splitLine: { show: false },
      axisLine: { show: true, lineStyle: { color: "#555" } },
      axisTick: { show: true, inside: true, length: 3, customValues: cbarTicks, lineStyle: { color: "#000" } },
      axisLabel: { show: true, customValues: cbarTicks, margin: 5, fontFamily: FONT, fontSize: 35, color: "#111", hideOverlap: false, formatter: (v: number) => cbarLabels[cbarTicks.indexOf(v)] },
      name: "log(N)", nameLocation: "middle", nameGap: 47, nameMoveOverlap: false, nameTextStyle: { fontFamily: FONT, fontSize: 28, color: "#222" },
    });
    series.push({
      type: "custom", xAxisIndex: xAxes.length - 1, yAxisIndex: yAxes.length - 1, data: [[0, cbarRange[0], 1, cbarRange[1]]], silent: true, clip: false,
      encode: { x: [0, 2], y: [1, 3] },
      renderItem: (_p: any, api: any) => {
        const a = api.coord([api.value(0), api.value(3)]), b = api.coord([api.value(2), api.value(1)]);
        return {
          type: "rect", shape: { x: a[0], y: a[1], width: b[0] - a[0], height: b[1] - a[1] },
          style: { stroke: "#555", lineWidth: 1, fill: new echarts.graphic.LinearGradient(0, 1, 0, 0, cividis.map((color, k) => ({ offset: k / (cividis.length - 1), color }))) },
        };
      },
    });

    const head = (text: string, x: number, y: number, fill: string) => ({ type: "text", x, y, style: { text, fontFamily: FONT, fontSize: 27, fill, textAlign: "center", textVerticalAlign: "middle" } });
    const side = (text: string, y: number) => ({ type: "text", x: 20, y, rotation: Math.PI / 2, style: { text, fontFamily: FONT, fontSize: 28, fill: GREY, textAlign: "center", textVerticalAlign: "middle" } });
    graphics.push(head("Non-clumpy", 345, 18, PURPLE), head("Clumpy", 952, 18, GREEN));
    graphics.push(side("isolated", 180), side("retrograde merger", 386), side("prograde merger", 623));

    chart.setOption({
      animation: false,
      backgroundColor: "#fff",
      grid: grids, xAxis: xAxes, yAxis: yAxes, series, graphic: graphics,
    });
    return () => chart.dispose();
  }, []);
  return <div ref={ref} style={{ position: "absolute", left: 0, top: 0, width: 1390, height: 762 }} />;
}

export default App;
